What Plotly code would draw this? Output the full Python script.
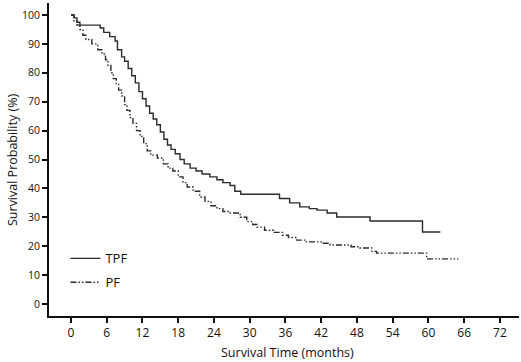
import plotly.graph_objects as go

# Kaplan-Meier step data (months, %)
tpf_time = [0, 0.5, 1, 1.5, 4.9, 5.5, 6.5, 7.4, 7.8, 8.5, 9, 9.6, 10.2, 10.8, 11.4, 12,
            12.6, 13.2, 13.8, 14.4, 15, 15.6, 16.2, 16.8, 17.5, 18.3, 19, 20, 21, 22,
            23.3, 24.5, 25.5, 26.7, 27.5, 28.5, 35, 36.7, 38.4, 40, 41.3, 43, 44.6,
            50.2, 59, 62]
tpf_surv = [100, 99, 97.5, 96.5, 95.5, 94, 92.5, 91, 88, 85.5, 84, 81.5, 79, 76.5, 73.5, 71,
            68.5, 66, 64, 62, 59.5, 57, 55, 53.5, 52, 50, 48.5, 47, 46, 45,
            44, 43, 42, 41, 39, 38, 36.5, 35, 33.6, 33, 32.5, 31.5, 30.1,
            28.7, 24.9, 24.9]

pf_time = [0, 0.5, 1, 1.5, 2, 2.5, 3.5, 4.5, 5.2, 5.8, 6.2, 6.7, 7.1, 7.6, 8, 8.5, 9, 9.4,
           9.9, 10.4, 11, 11.6, 12.2, 12.8, 13.4, 14.5, 15.5, 16.3, 17.1, 18, 18.8, 19.5,
           20.5, 21.6, 22.5, 23.5, 24.5, 25.5, 26.7, 28.4, 29.5, 30.5, 31.2, 32.5, 34,
           35.5, 36.5, 37.9, 39.5, 42, 43.5, 47, 48.5, 50.5, 51.3, 59.7, 65]
pf_surv = [100, 98, 96.5, 95, 93, 91.5, 90, 88, 86.5, 84.5, 82.5, 80, 78, 76, 74, 72, 69, 67,
           64.5, 62.5, 60, 58, 55.5, 53, 51.5, 50.5, 48.5, 47, 46, 44, 42, 40.5,
           39, 37, 35.5, 34, 33, 32, 31.5, 30, 28.5, 27.5, 26.6, 25.5, 24.8,
           23.8, 23, 22.1, 21.5, 21, 20.4, 19.8, 19.4, 18.2, 17.6, 15.6, 15.6]

x_ticks = list(range(0, 73, 6))
y_ticks = list(range(0, 101, 10))

fig = go.Figure()
fig.add_trace(go.Scatter(x=tpf_time, y=tpf_surv, mode="lines", name="TPF", legendgroup="a",
                         line=dict(shape="hv", color="#2b2b2b", width=1.4)))
fig.add_trace(go.Scatter(x=pf_time, y=pf_surv, mode="lines", name="PF", legendgroup="b",
                         line=dict(shape="hv", color="#2b2b2b", width=1.4,
                                   dash="6px,2px,1.5px,2px,1.5px,2px")))

font_family = "Open Sans, Liberation Sans, sans-serif"
fig.update_layout(
    width=521, height=362,
    margin=dict(l=49, r=2, t=3, b=46),
    paper_bgcolor="white", plot_bgcolor="white",
    font=dict(family=font_family, color="#111", size=11),
    showlegend=True,
    legend=dict(x=0.035, y=0.232, xanchor="left", yanchor="top",
                bgcolor="rgba(0,0,0,0)", font=dict(size=13),
                itemwidth=30, tracegroupgap=4),
    xaxis=dict(range=[-3.69, 75.2], tickvals=x_ticks, ticktext=[str(v) for v in x_ticks],
               showgrid=False, zeroline=False, showline=True, linecolor="#111", linewidth=2,
               ticks="outside", ticklen=5, tickwidth=2, tickcolor="#111",
               tickfont=dict(size=12), automargin=False),
    yaxis=dict(range=[-4.15, 104.15], tickvals=y_ticks, ticktext=[str(v) for v in y_ticks],
               showgrid=False, zeroline=False, showline=True, linecolor="#111", linewidth=2,
               ticks="outside", ticklen=5, tickwidth=2, tickcolor="#111",
               tickfont=dict(size=10.5), automargin=False),
    annotations=[
        dict(text="Survival Time (months)", xref="paper", yref="paper",
             x=(287 - 49) / 470, y=(316 - 352) / 313, xanchor="center", yanchor="middle",
             showarrow=False, font=dict(size=12.5)),
        dict(text="Survival Probability (%)", xref="paper", yref="paper",
             x=(12 - 49) / 470, y=(316 - 160) / 313, xanchor="center", yanchor="middle",
             textangle=-90, showarrow=False, font=dict(size=12.5)),
    ],
)

fig.write_html("out.html", config={"displayModeBar": False},
               post_script="document.body.style.margin='0';document.body.style.overflow='hidden';")
